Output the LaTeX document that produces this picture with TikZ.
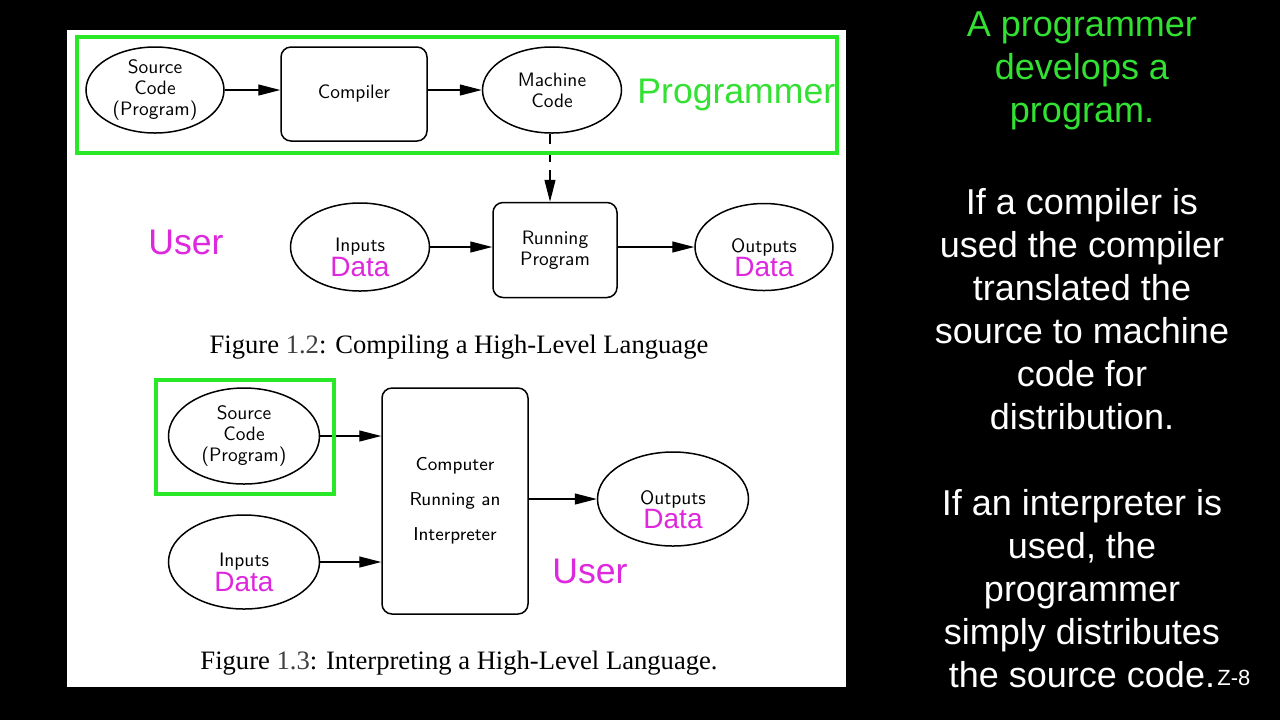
\documentclass[tikz,border=0pt]{standalone}
\usepackage{fontspec}
\usepackage{tikz}
\usetikzlibrary{shapes.geometric, arrows.meta, positioning}
\newfontfamily\slidefont{Liberation Sans}
\newfontfamily\bookfont{Liberation Serif}
\definecolor{framegreen}{RGB}{40,232,40}
\definecolor{textgreen}{RGB}{50,225,50}
\definecolor{usermagenta}{RGB}{222,40,222}

\begin{document}
\begin{tikzpicture}[
    x=0.5pt, y=-0.5pt,
    oval/.style={ellipse, draw, line width=0.75pt, inner sep=0pt, align=center, font=\fontsize{9.7}{10.5}\selectfont\sffamily},
    procbox/.style={draw, line width=0.75pt, rounded corners=5pt, inner sep=0pt, align=center, font=\fontsize{9.7}{10.5}\selectfont\sffamily},
    flow/.style={-{Triangle[length=11pt, width=5.5pt]}, line width=0.6pt},
    greenframe/.style={draw=framegreen, line width=2pt},
    role/.style={font=\fontsize{17.8}{20}\selectfont\slidefont, text=usermagenta, inner sep=0pt, anchor=base west},
    datatext/.style={font=\fontsize{14}{16}\selectfont\slidefont, text=usermagenta, inner sep=0pt},
    caption/.style={font=\fontsize{13.3}{16}\selectfont\bookfont, inner sep=0pt},
    slidetext/.style={font=\fontsize{18}{21.5}\selectfont\slidefont, align=center, inner sep=0pt}
]
    % Slide and page
    \fill[black] (0,0) rectangle (1280,720);
    \useasboundingbox (0,0) rectangle (1280,720);
    \fill[white] (67,30) rectangle (846,687);

    % Figure 1.2
    \node[oval, minimum width=69pt, minimum height=43pt] (src) at (155,90) {Source\\Code\\(Program)};
    \node[procbox, minimum width=73pt, minimum height=47pt] (comp) at (354,94) {Compiler};
    \node[oval, minimum width=69.5pt, minimum height=43pt] (mach) at (552,90) {Machine\\Code};
    \node[oval, minimum width=69.5pt, minimum height=44pt,
          label={[datatext, yshift=-10pt]center:Data}] (tinp) at (360,247) {Inputs};
    \node[procbox, minimum width=62pt, minimum height=47.5pt] (run) at (555,250) {Running\\Program};
    \node[oval, minimum width=69pt, minimum height=43.5pt,
          label={[datatext, yshift=-10pt]center:Data}] (tout) at (764,247) {Outputs};

    \draw[flow] (src.east) -- (src.east -| comp.west);
    \draw[flow] (comp.east |- src.east) -- (mach.west);
    \draw[flow, dash pattern=on 5pt off 4pt] ([xshift=-1pt]mach.south) -- ([xshift=-1pt]mach.south |- run.north);
    \draw[flow] (tinp.east) -- (tinp.east -| run.west);
    \draw[flow] (run.east |- tout.west) -- (tout.west);

    \draw[greenframe] (77,37) rectangle (837,153);
    \node[role, text=textgreen] (coder) at (637,103) {Programmer};
    \node[role] (user1) at (148,254) {User};
    \node[caption] (cap1) at (459,347) {Figure {\color{black!75}1.2}: Compiling a High-Level Language};

    % Figure 1.3
    \node[oval, minimum width=75.5pt, minimum height=48pt] (bsrc) at (244,436) {Source\\Code\\(Program)};
    \node[oval, minimum width=75.5pt, minimum height=47pt,
          label={[datatext, yshift=-10pt]center:Data}] (binp) at (244,562) {Inputs};
    \node[procbox, minimum width=73pt, minimum height=113pt,
          font=\fontsize{9.3}{17.5}\selectfont\sffamily] (interp) at (455,501) {Computer\\Running an\\Interpreter};
    \node[oval, minimum width=75.5pt, minimum height=47pt,
          label={[datatext, yshift=-10pt]center:Data}] (bout) at (673,499) {Outputs};

    \draw[flow] (bsrc.east) -- (bsrc.east -| interp.west);
    \draw[flow] (binp.east) -- (binp.east -| interp.west);
    \draw[flow] (bout.west -| interp.east) -- (bout.west);

    \draw[greenframe] (156,380) rectangle (334,494);
    \node[role] (user2) at (552,583) {User};
    \node[caption] (cap2) at (459,663) {Figure {\color{black!75}1.3}: Interpreting a High-Level Language.};

    % Notes
    \node[slidetext, text=textgreen] (intro) at (1082,71) {A programmer\\develops a\\program.};
    \node[slidetext, text=white] (notes) at (1082,438) {If a compiler is\\used the compiler\\translated the\\source to machine\\code for\\distribution.\\[21.5pt]If an interpreter is\\used, the\\programmer\\simply distributes\\the source code.};
    \node[font=\fontsize{11}{13}\selectfont\slidefont, text=white, inner sep=0pt, anchor=base west] (slideno) at (1217,685) {Z-8};
\end{tikzpicture}
\end{document}
